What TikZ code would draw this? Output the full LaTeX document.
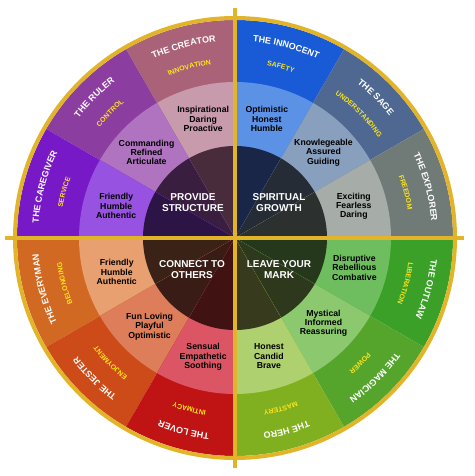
\documentclass[tikz,border=0pt]{standalone}
\usepackage{fontspec}
\setmainfont{Liberation Sans}
\usetikzlibrary{decorations.text}

\definecolor{ringgold}{RGB}{226,180,42}
\definecolor{valyellow}{RGB}{250,228,30}
%% outer ring (o), trait ring (m), centre (c)
\definecolor{creatoro}{RGB}{170,98,120}  \definecolor{creatorm}{RGB}{200,155,172} \definecolor{creatorc}{RGB}{72,44,60}
\definecolor{rulero}{RGB}{140,62,160}    \definecolor{rulerm}{RGB}{176,115,192}   \definecolor{rulerc}{RGB}{58,30,64}
\definecolor{caregivero}{RGB}{120,25,200}\definecolor{caregiverm}{RGB}{152,82,225}\definecolor{caregiverc}{RGB}{44,20,70}
\definecolor{innocento}{RGB}{25,90,215}  \definecolor{innocentm}{RGB}{92,146,230}  \definecolor{innocentc}{RGB}{26,38,72}
\definecolor{sageo}{RGB}{78,104,145}     \definecolor{sagem}{RGB}{136,160,190}    \definecolor{sagec}{RGB}{38,44,54}
\definecolor{explorero}{RGB}{112,122,118}\definecolor{explorerm}{RGB}{166,172,168}\definecolor{explorerc}{RGB}{44,48,46}
\definecolor{everymano}{RGB}{210,105,35} \definecolor{everymanm}{RGB}{232,160,112}\definecolor{everymanc}{RGB}{58,34,22}
\definecolor{jestero}{RGB}{205,75,25}    \definecolor{jesterm}{RGB}{222,125,90}   \definecolor{jesterc}{RGB}{58,28,22}
\definecolor{lovero}{RGB}{192,20,20}     \definecolor{loverm}{RGB}{220,85,100}    \definecolor{loverc}{RGB}{64,18,18}
\definecolor{outlawo}{RGB}{58,160,40}    \definecolor{outlawm}{RGB}{110,190,95}   \definecolor{outlawc}{RGB}{38,56,28}
\definecolor{magiciano}{RGB}{85,165,45}  \definecolor{magicianm}{RGB}{140,200,110}\definecolor{magicianc}{RGB}{46,56,28}
\definecolor{heroo}{RGB}{128,176,32}     \definecolor{herom}{RGB}{175,208,110}    \definecolor{heroc}{RGB}{56,58,30}

\begin{document}
\begin{tikzpicture}[x=1pt,y=1pt]
  \useasboundingbox (0,0) rectangle (474,476);
  \coordinate (C) at (235,238);
  \tikzstyle{trait}=[align=center,text=black,font=\bfseries\fontsize{8.7}{9.3}\selectfont]
  \tikzstyle{goal}=[align=center,text=white,font=\bfseries\fontsize{10}{11}\selectfont]
  \newcommand{\namefont}{\bfseries\fontsize{9}{9}\selectfont}
  \newcommand{\valfont}{\bfseries\fontsize{7}{7}\selectfont}

%% the twelve sectors, three rings each
  \foreach \a/\id in {90/creator,120/ruler,150/caregiver,60/innocent,30/sage,0/explorer,
                      180/everyman,210/jester,240/lover,330/outlaw,300/magician,270/hero} {
    \fill[\id o] (C) -- ([shift={(\a:218)}]C) arc[start angle=\a,end angle=\a+30,radius=218] -- cycle;
    \fill[\id m] (C) -- ([shift={(\a:156)}]C) arc[start angle=\a,end angle=\a+30,radius=156] -- cycle;
    \fill[\id c] (C) -- ([shift={(\a:92)}]C) arc[start angle=\a,end angle=\a+30,radius=92] -- cycle;
  }

%% gold ring and cross
  \draw[ringgold,line width=4] (C) circle[radius=220];
  \coordinate (W) at ([shift={(-230,0)}]C);
  \coordinate (E) at ([shift={(229,0)}]C);
  \coordinate (N) at ([shift={(0,230)}]C);
  \coordinate (S) at ([shift={(0,-230)}]C);
  \draw[ringgold,line width=3.5] (W) -- (E);
  \draw[ringgold,line width=3.5] (N) -- (S);

%% curved names and values
  \newcommand{\myarc}[4]{%
    \path[decorate,decoration={text along path,text align=center,text color=#3,text={#4}}]
      ([shift={(#1+30:#2)}]C) arc[start angle=#1+30,end angle=#1,radius=#2];}
  \myarc{90}{197}{white}{|\namefont|THE CREATOR}
  \myarc{90}{175}{valyellow}{|\valfont|INNOVATION}
  \myarc{120}{197}{white}{|\namefont|THE RULER}
  \myarc{120}{175}{valyellow}{|\valfont|CONTROL}
  \myarc{150}{197}{white}{|\namefont|THE CAREGIVER}
  \myarc{150}{175}{valyellow}{|\valfont|SERVICE}
  \myarc{60}{197}{white}{|\namefont|THE INNOCENT}
  \myarc{60}{175}{valyellow}{|\valfont|SAFETY}
  \myarc{30}{197}{white}{|\namefont|THE SAGE}
  \myarc{30}{175}{valyellow}{|\valfont|UNDERSTANDING}
  \myarc{0}{197}{white}{|\namefont|THE EXPLORER}
  \myarc{0}{175}{valyellow}{|\valfont|FREEDOM}
  \myarc{180}{197}{white}{|\namefont|THE EVERYMAN}
  \myarc{180}{175}{valyellow}{|\valfont|BELONGING}
  \myarc{210}{197}{white}{|\namefont|THE JESTER}
  \myarc{210}{175}{valyellow}{|\valfont|ENJOYMENT}
  \myarc{240}{197}{white}{|\namefont|THE LOVER}
  \myarc{240}{175}{valyellow}{|\valfont|INTIMACY}
  \myarc{330}{197}{white}{|\namefont|THE OUTLAW}
  \myarc{330}{175}{valyellow}{|\valfont|LIBERATION}
  \myarc{300}{197}{white}{|\namefont|THE MAGICIAN}
  \myarc{300}{175}{valyellow}{|\valfont|POWER}
  \myarc{270}{197}{white}{|\namefont|THE HERO}
  \myarc{270}{175}{valyellow}{|\valfont|MASTERY}

%% traits
  \foreach \a/\id/\txt in {105/creator/{Inspirational\\Daring\\Proactive},
                           136/ruler/{Commanding\\Refined\\Articulate},
                           165/caregiver/{Friendly\\Humble\\Authentic},
                           75/innocent/{Optimistic\\Honest\\Humble},
                           44/sage/{Knowlegeable\\Assured\\Guiding},
                           15/explorer/{Exciting\\Fearless\\Daring},
                           196/everyman/{Friendly\\Humble\\Authentic},
                           226/jester/{Fun Loving\\Playful\\Optimistic},
                           255/lover/{Sensual\\Empathetic\\Soothing},
                           346/outlaw/{Disruptive\\Rebellious\\Combative},
                           316/magician/{Mystical\\Informed\\Reassuring},
                           286/hero/{Honest\\Candid\\Brave}}
    \node[trait] (trait-\id) at ([shift={(\a:123)}]C) {\txt};

%% goals in the centre
  \node[goal] (structure) at ([shift={(-42,35)}]C)  {PROVIDE\\STRUCTURE};
  \node[goal] (spiritual) at ([shift={(44,35)}]C)   {SPIRITUAL\\GROWTH};
  \node[goal] (connect)   at ([shift={(-43,-32)}]C) {CONNECT TO\\OTHERS};
  \node[goal] (mark)      at ([shift={(44,-32)}]C)  {LEAVE YOUR\\MARK};
\end{tikzpicture}
\end{document}
